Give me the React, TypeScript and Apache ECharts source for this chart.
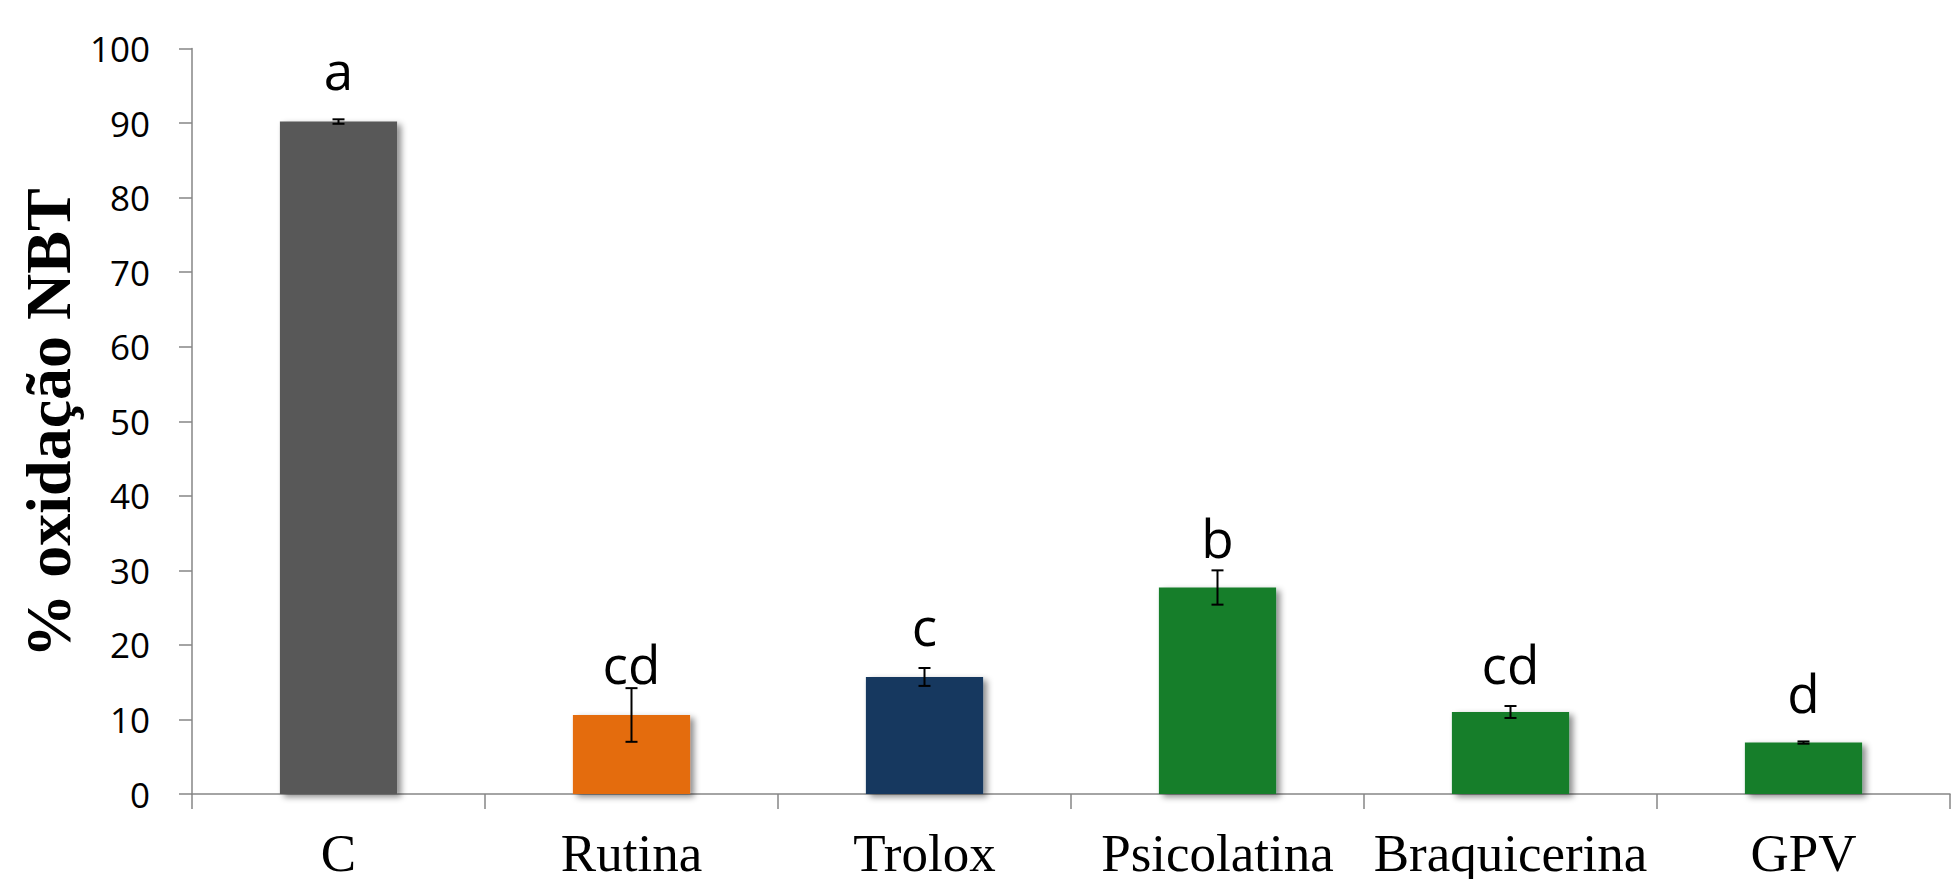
import React, { useEffect, useRef } from "react";
import * as echarts from "echarts";

const categories = ["C", "Rutina", "Trolox", "Psicolatina", "Braquicerina", "GPV"];
const values = [90.2, 10.6, 15.7, 27.7, 11.0, 6.9];
const errors = [0.3, 3.6, 1.2, 2.3, 0.8, 0.15];
const letters = ["a", "cd", "c", "b", "cd", "d"];
const letterLevels = [93.6, 13.9, 19.0, 30.8, 13.9, 10.1];
const barColors = ["#595959", "#E46C0A", "#17375E", "#177E2B", "#177E2B", "#177E2B"];
const yTicks = { min: 0, max: 100, interval: 10 };
const yTitle = "% oxidação NBT";

export default function App() {
  const ref = useRef<HTMLDivElement>(null);
  useEffect(() => {
    if (!ref.current) return;
    const chart = echarts.init(ref.current, null, { renderer: "svg" });
    const axisGray = "#868686";
    chart.setOption({
      animation: false,
      backgroundColor: "#ffffff",
      grid: { left: 192, right: 2, top: 48.5, bottom: 84.5, containLabel: false },
      xAxis: {
        type: "category",
        data: categories,
        axisLine: { show: true, lineStyle: { color: axisGray, width: 1.5 } },
        axisTick: { show: true, length: 15, alignWithLabel: false, lineStyle: { color: axisGray, width: 1.5 } },
        axisLabel: {
          color: "#000",
          fontFamily: "Liberation Serif",
          fontSize: 53,
          margin: 32,
          interval: 0,
        },
      },
      yAxis: {
        type: "value",
        min: yTicks.min,
        max: yTicks.max,
        interval: yTicks.interval,
        axisLine: { show: true, lineStyle: { color: axisGray, width: 1.5 } },
        axisTick: { show: true, length: 13, lineStyle: { color: axisGray, width: 1.5 } },
        splitLine: { show: false },
        axisLabel: {
          color: "#000",
          fontFamily: "Open Sans",
          fontSize: 35,
          margin: 42,
        },
      },
      graphic: [
        {
          type: "text",
          x: 48,
          y: 423,
          rotation: Math.PI / 2,
          style: {
            text: yTitle,
            fontFamily: "Liberation Serif",
            fontWeight: "bold",
            fontSize: 64,
            fill: "#000",
            align: "center",
            verticalAlign: "middle",
          },
        },
      ],
      series: [
        {
          type: "bar",
          barWidth: "40%",
          data: values.map((v, i) => ({
            value: v,
            itemStyle: {
              color: barColors[i],
              shadowColor: "rgba(0,0,0,0.45)",
              shadowBlur: 6,
              shadowOffsetX: 4,
              shadowOffsetY: 3,
            },
          })),
        },
        {
          type: "custom",
          z: 10,
          data: values.map((v, i) => [i, v, errors[i], letterLevels[i]]),
          renderItem: (params: any, api: any) => {
            const i = api.value(0);
            const v = api.value(1);
            const e = api.value(2);
            const ly = api.value(3);
            const top = api.coord([i, v + e]);
            const bot = api.coord([i, v - e]);
            const lp = api.coord([i, ly]);
            const cap = 6;
            const ls = { stroke: "#000", lineWidth: 2 };
            return {
              type: "group",
              children: [
                { type: "line", shape: { x1: top[0], y1: top[1], x2: bot[0], y2: bot[1] }, style: ls },
                { type: "line", shape: { x1: top[0] - cap, y1: top[1], x2: top[0] + cap, y2: top[1] }, style: ls },
                { type: "line", shape: { x1: bot[0] - cap, y1: bot[1], x2: bot[0] + cap, y2: bot[1] }, style: ls },
                {
                  type: "text",
                  x: lp[0],
                  y: lp[1],
                  style: {
                    text: letters[i],
                    fontFamily: "Open Sans",
                    fontSize: 53,
                    fill: "#000",
                    align: "center",
                    verticalAlign: "bottom",
                  },
                },
              ],
            };
          },
        },
      ],
    });
    return () => chart.dispose();
  }, []);
  return (
    <div
      ref={ref}
      style={{ position: "absolute", left: 0, top: 0, width: 1952, height: 879, background: "#fff" }}
    />
  );
}
